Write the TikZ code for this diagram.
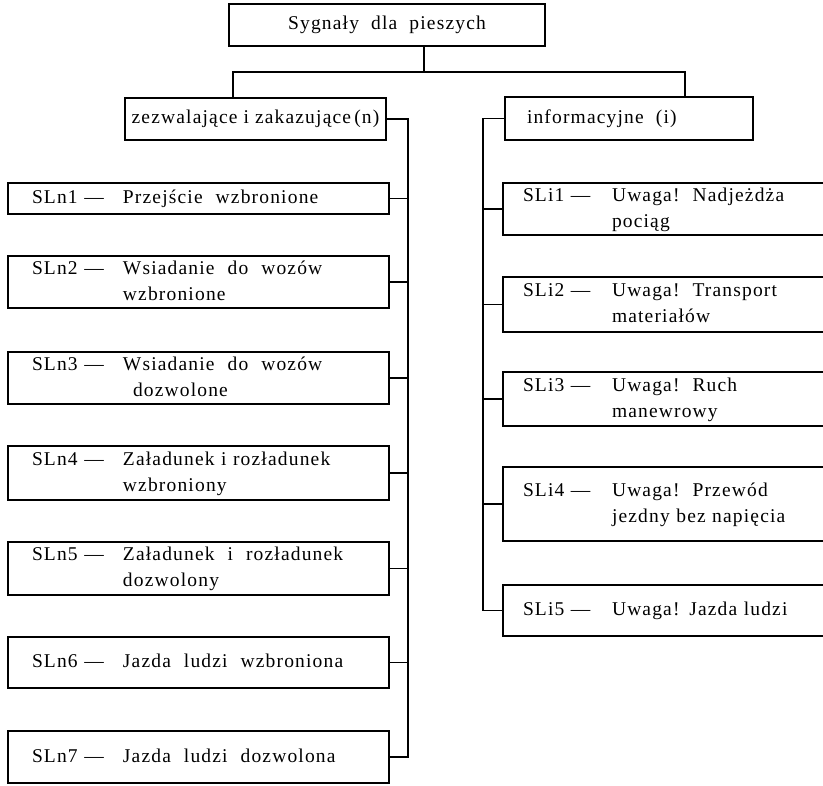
\documentclass[tikz,border=0pt]{standalone}
\usepackage{fontspec}
\setmainfont{Liberation Serif}[LetterSpace=6]
\newcommand\entry[3]{\begin{tabular}{@{}p{#1}@{}l@{}}#2&#3\end{tabular}}
\begin{document}
\begin{tikzpicture}[x=1pt,y=1pt,
  every node/.style={font=\fontsize{19.5}{26}\selectfont},
  frame/.style={draw, line width=1.6pt, inner ysep=0pt},
  lbox/.style={frame, minimum width=381pt, text width=333pt, inner xsep=24pt, align=left},
  rbox/.style={frame, minimum width=357pt, text width=317pt, inner xsep=20pt, align=left},
  link/.style={line width=1.1pt}]
\useasboundingbox (0,0) rectangle (823,-786);
\clip (0,0) rectangle (823,-786);
\fill[white] (0,0) rectangle (823,-786);

% top level
\node[frame, minimum width=316pt, minimum height=42pt] (top) at (387,-25) {Sygnały\ \ dla\ \ pieszych};

% second level
\node[frame, minimum width=261pt, minimum height=42pt] (zez) at (255.5,-119)
  {zezwalające i zakazujące\,(n)};
\node[frame, minimum width=248pt, minimum height=43pt, inner xsep=0pt] (info) at (629,-118.5)
  {\makebox[204pt][l]{informacyjne\ \ (i)}};

% left column
\node[lbox, minimum height=31pt] (n1) at (198.5,-198.5) {\entry{91pt}{SLn1 —}{Przejście\ \ wzbronione}};
\node[lbox, minimum height=52pt] (n2) at (198.5,-282) {\entry{91pt}{SLn2 —}{Wsiadanie\ \ do\ \ wozów\\ & wzbronione}};
\node[lbox, minimum height=52pt] (n3) at (198.5,-378) {\entry{91pt}{SLn3 —}{Wsiadanie\ \ do\ \ wozów\\ & \hspace{10pt}dozwolone}};
\node[lbox, minimum height=54pt] (n4) at (198.5,-473) {\entry{91pt}{SLn4 —}{Załadunek i rozładunek\\ & wzbroniony}};
\node[lbox, minimum height=53pt] (n5) at (198.5,-568.5) {\entry{91pt}{SLn5 —}{Załadunek\ \ i\ \ rozładunek\\ & dozwolony}};
\node[lbox, minimum height=51pt] (n6) at (198.5,-662.5) {\entry{91pt}{SLn6 —}{Jazda\ \ ludzi\ \ wzbroniona}};
\node[lbox, minimum height=52pt] (n7) at (198.5,-757) {\entry{91pt}{SLn7 —}{Jazda\ \ ludzi\ \ dozwolona}};

% right column
\node[rbox, minimum height=52pt] (i1) at (681.5,-209) {\entry{89pt}{SLi1 —}{Uwaga!\ \ Nadjeżdża\\ & pociąg}};
\node[rbox, minimum height=55pt] (i2) at (681.5,-304.5) {\entry{89pt}{SLi2 —}{Uwaga!\ \ Transport\\ & materiałów}};
\node[rbox, minimum height=54pt] (i3) at (681.5,-399) {\entry{89pt}{SLi3 —}{Uwaga!\ \ Ruch\\ & manewrowy}};
\node[rbox, minimum height=74pt] (i4) at (681.5,-504) {\entry{89pt}{SLi4 —}{Uwaga!\ \ Przewód\\ & jezdny bez napięcia}};
\node[rbox, minimum height=51pt] (i5) at (681.5,-610.5) {\entry{89pt}{SLi5 —}{Uwaga! Jazda ludzi}};

% connectors
\coordinate (stem) at (424,-72);
\coordinate (hl) at (233,-72);
\coordinate (hr) at (685,-72);
\coordinate (lt) at (408,-118);
\coordinate (rt) at (483,-120);
\draw[link] (top.south -| stem) -- (stem);
\draw[link] (zez.north -| hl) -- (hl) -- (hr) -- (info.north -| hr);
\draw[link] (zez.east) -- (zez.east -| lt) -- (n7.east -| lt) -- (n7.east);
\foreach \k in {n1,n2,n3,n4,n5,n6}{\draw[link] (\k.east) -- (\k.east -| lt);}
\draw[link] (info.west) -- (info.west -| rt) -- (i5.west -| rt) -- (i5.west);
\foreach \k in {i1,i2,i3,i4}{\draw[link] (\k.west) -- (\k.west -| rt);}
\end{tikzpicture}
\end{document}
